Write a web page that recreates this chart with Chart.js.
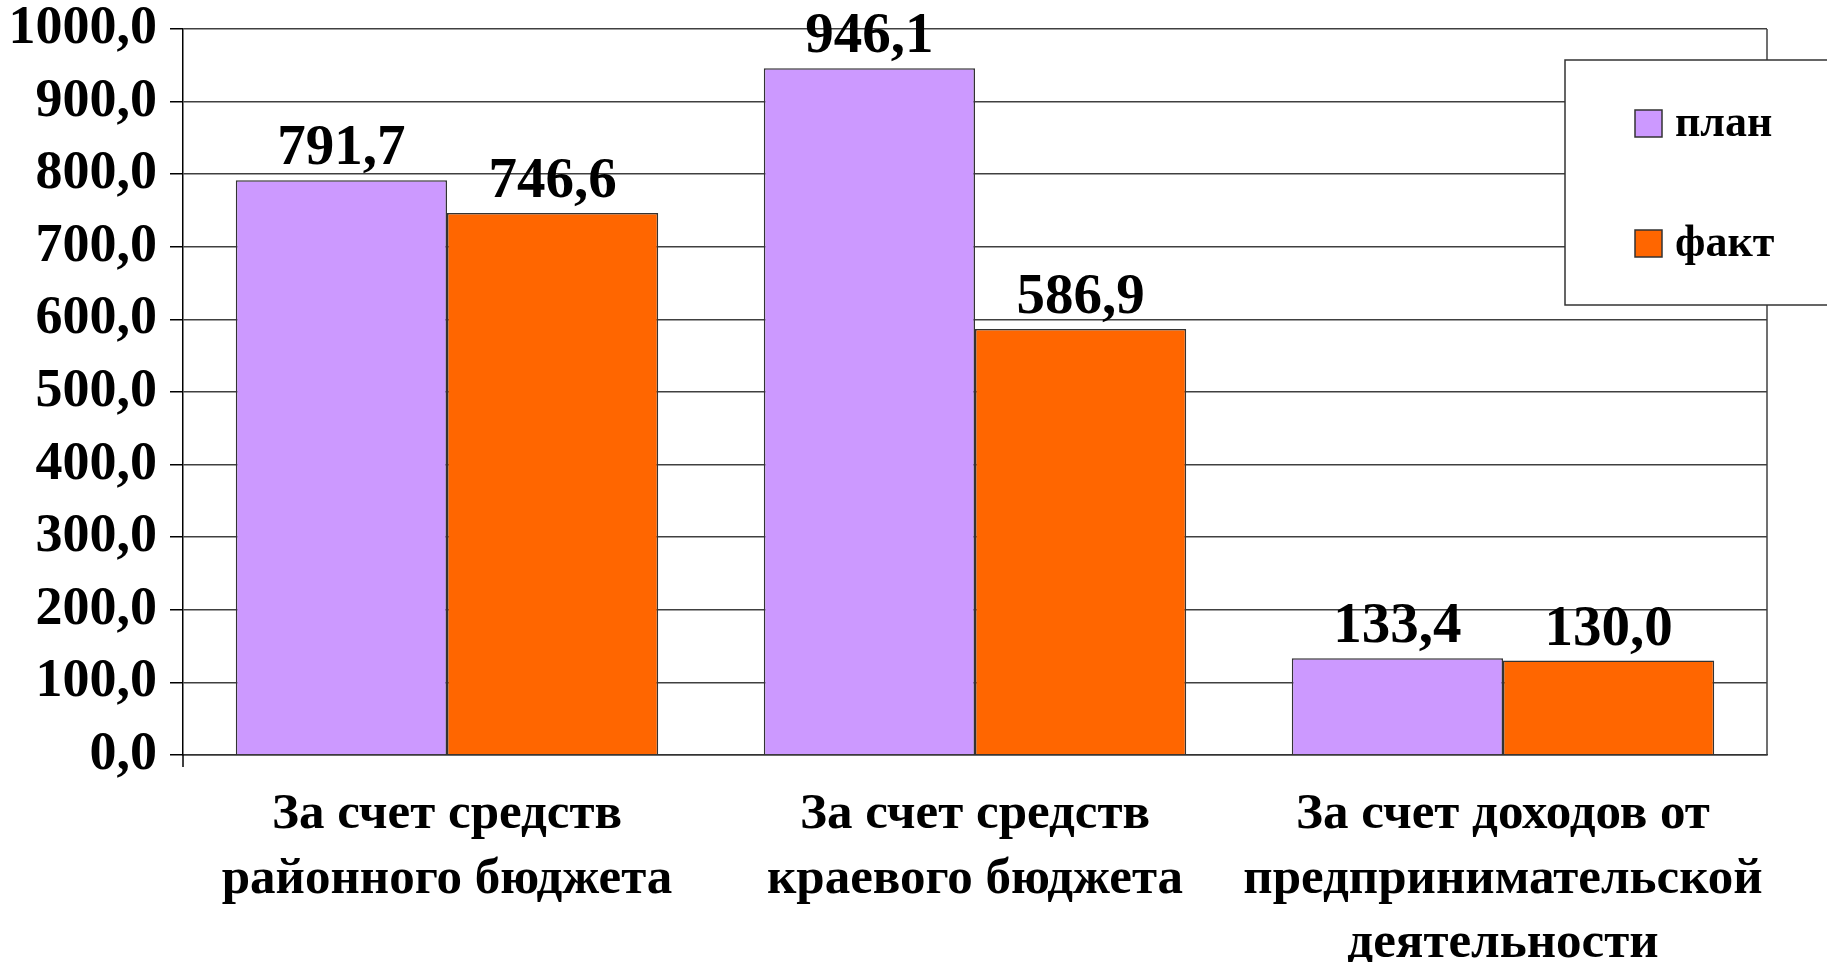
<!DOCTYPE html>
<html>
<head>
<meta charset="utf-8">
<script src="https://cdn.jsdelivr.net/npm/chart.js@4/dist/chart.umd.min.js"></script>
<style>
  body { margin: 0; background: #fff; }
</style>
</head>
<body>
<canvas id="budgetChart" width="1827" height="962"></canvas>
<script>
const categories = [
  ['За счет средств', 'районного бюджета'],
  ['За счет средств', 'краевого бюджета'],
  ['За счет доходов от', 'предпринимательской', 'деятельности']
];
const planValues = [791.7, 946.1, 133.4];
const factValues = [746.6, 586.9, 130.0];
const seriesNames = ['план', 'факт'];

const FONT = '"Liberation Serif", "Times New Roman", serif';

function fmt(v) {
  return Number(v).toFixed(1).replace('.', ',');
}

// value labels above every bar
const valueLabels = {
  id: 'valueLabels',
  afterDatasetsDraw(chart) {
    const ctx = chart.ctx;
    ctx.save();
    ctx.font = 'bold 57px ' + FONT;
    ctx.fillStyle = '#000';
    ctx.textAlign = 'center';
    ctx.textBaseline = 'bottom';
    chart.data.datasets.forEach((ds, i) => {
      chart.getDatasetMeta(i).data.forEach((bar, j) => {
        ctx.fillText(fmt(ds.data[j]), bar.x, bar.y - 2);
      });
    });
    ctx.restore();
  }
};

// right frame of the plot, axis stub below zero, and the boxed legend
const frameAndLegend = {
  id: 'frameAndLegend',
  afterDraw(chart) {
    const ctx = chart.ctx;
    const a = chart.chartArea;
    ctx.save();
    ctx.strokeStyle = '#404040';
    ctx.lineWidth = 1.5;
    ctx.beginPath();
    ctx.moveTo(a.right, a.top);
    ctx.lineTo(a.right, a.bottom);
    ctx.stroke();
    ctx.strokeStyle = '#000';
    ctx.beginPath();
    ctx.moveTo(a.left, a.bottom);
    ctx.lineTo(a.left, a.bottom + 12);
    ctx.stroke();

    // legend box (runs off the right side like the original)
    const bx = 1565, by = 60, bw = 320, bh = 245;
    ctx.fillStyle = '#fff';
    ctx.fillRect(bx, by, bw, bh);
    ctx.strokeStyle = '#333';
    ctx.lineWidth = 1.5;
    ctx.strokeRect(bx, by, bw, bh);

    ctx.font = 'bold 44px ' + FONT;
    ctx.textBaseline = 'middle';
    ctx.textAlign = 'left';
    const rows = [123, 243];
    chart.data.datasets.forEach((ds, i) => {
      const cy = rows[i];
      ctx.fillStyle = ds.backgroundColor;
      ctx.fillRect(1635, cy - 13, 27, 27);
      ctx.strokeStyle = '#333';
      ctx.lineWidth = 1.5;
      ctx.strokeRect(1635, cy - 13, 27, 27);
      ctx.fillStyle = '#000';
      ctx.fillText(ds.label, 1675, cy + 2);
    });
    ctx.restore();
  }
};

const ctx = document.getElementById('budgetChart');
new Chart(ctx, {
  type: 'bar',
  data: {
    labels: categories,
    datasets: [
      {
        label: seriesNames[0],
        data: planValues,
        backgroundColor: '#CC99FF',
        borderColor: '#333',
        borderWidth: 1.5,
        categoryPercentage: 0.8,
        barPercentage: 1
      },
      {
        label: seriesNames[1],
        data: factValues,
        backgroundColor: '#FF6600',
        borderColor: '#333',
        borderWidth: 1.5,
        categoryPercentage: 0.8,
        barPercentage: 1
      }
    ]
  },
  options: {
    responsive: false,
    animation: false,
    layout: {
      padding: { top: 29, right: 60, bottom: 0, left: 0 }
    },
    plugins: {
      legend: { display: false },
      tooltip: { enabled: false }
    },
    scales: {
      x: {
        grid: { display: false, drawTicks: false },
        border: { display: true, color: '#333', width: 1.5 },
        ticks: {
          color: '#000',
          padding: 28,
          maxRotation: 0,
          autoSkip: false,
          font: { family: FONT, size: 51, weight: 'bold', lineHeight: 1.26 }
        },
        afterFit(scale) { scale.height = 207; }
      },
      y: {
        min: 0,
        max: 1000,
        ticks: {
          stepSize: 100,
          color: '#000',
          padding: 13,
          // small line height keeps the top label from pushing the plot down
          font: { family: FONT, size: 54, weight: 'bold', lineHeight: 0.3 },
          callback: function(value) {
            return fmt(value);
          }
        },
        grid: {
          color: '#404040',
          lineWidth: 1.5,
          tickColor: '#000',
          tickLength: 13
        },
        border: { display: true, color: '#000', width: 1.5 },
        afterFit(scale) { scale.width = 183; }
      }
    }
  },
  plugins: [valueLabels, frameAndLegend]
});
</script>
</body>
</html>
